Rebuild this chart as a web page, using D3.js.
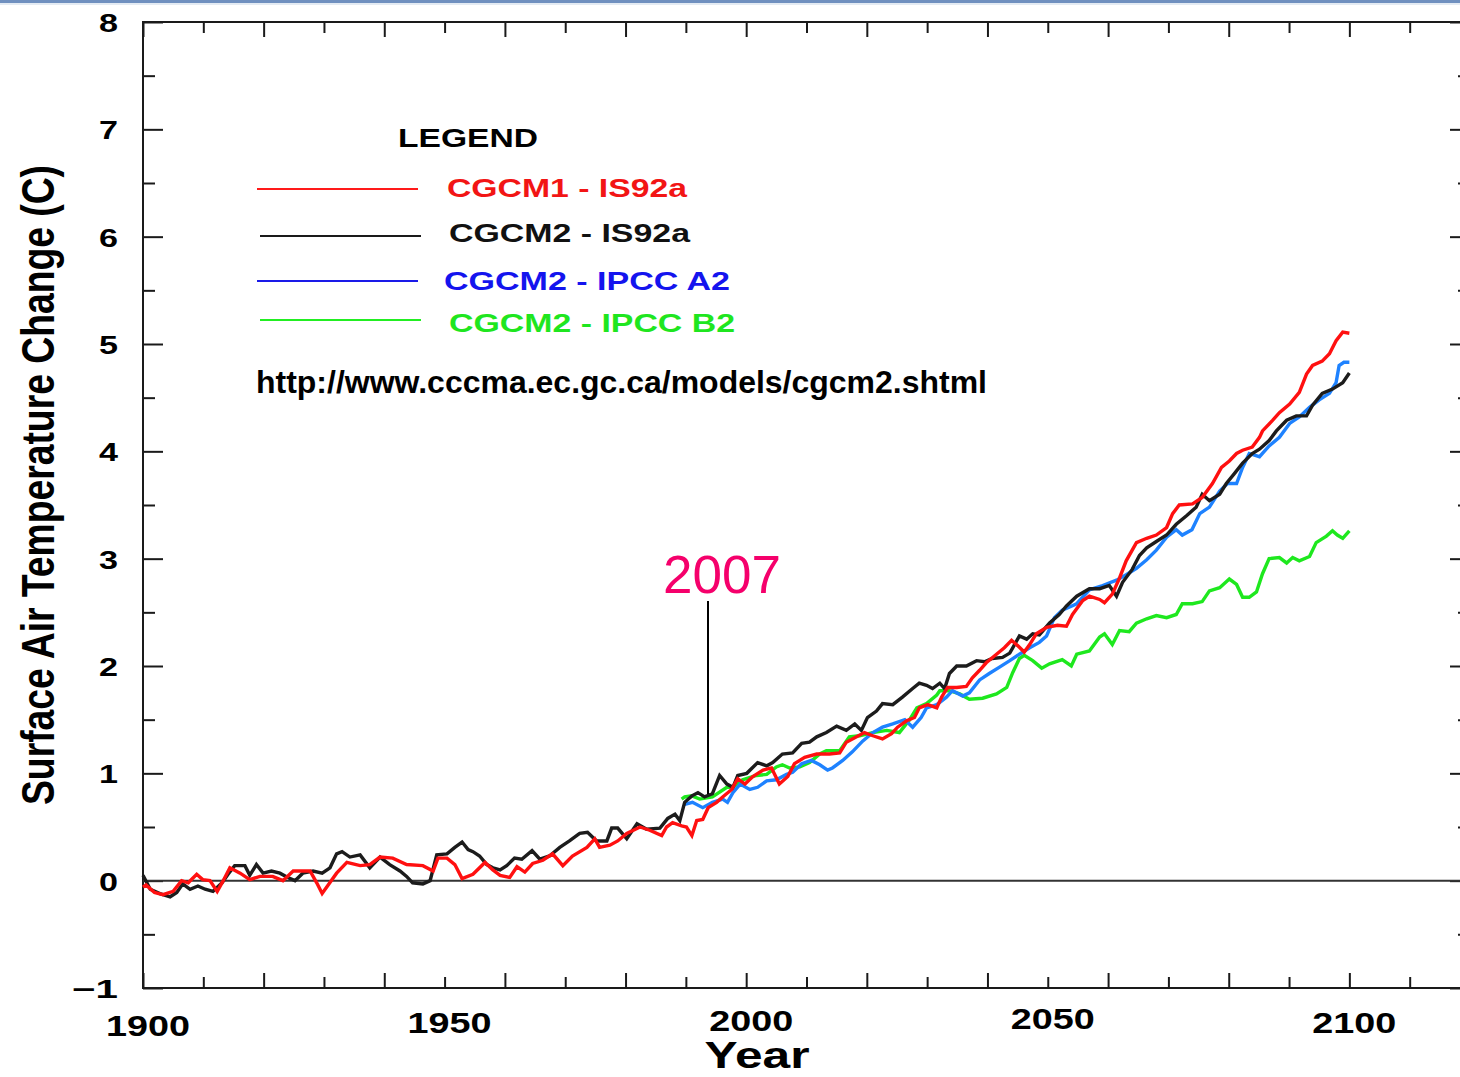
<!DOCTYPE html>
<html>
<head>
<meta charset="utf-8">
<script src="https://cdn.jsdelivr.net/npm/d3@7"></script>
<style>
  html, body { margin: 0; padding: 0; background: #fff; }
  svg { display: block; }
  text { font-family: "Liberation Sans", Arial, sans-serif; }
</style>
</head>
<body>
<svg id="chart" width="1460" height="1077"></svg>
<script>
// Surface air temperature change, CGCM runs
var xLabelYears = [1900, 1950, 2000, 2050, 2100];
var yLabelValues = [-1, 0, 1, 2, 3, 4, 5, 6, 7, 8];
var legendNames = ["CGCM1 - IS92a", "CGCM2 - IS92a", "CGCM2 - IPCC A2", "CGCM2 - IPCC B2"];
var noteYear = "2007";
var sourceUrl = "http://www.cccma.ec.gc.ca/models/cgcm2.shtml";

var cgcm1Is92a = [
  [1900,-0.06],[1900.5,-0.04],[1901.9,-0.11],[1903.3,-0.13],[1905,-0.1],[1906.4,0],[1907.5,-0.02],
  [1908.9,0.06],[1909.9,0.01],[1911.1,0],[1912.3,-0.1],[1913.3,0],[1914.4,0.12],[1916.1,0.07],
  [1917.7,0.01],[1919.4,0.04],[1921.5,0.04],[1923.2,0],[1924.9,0.09],[1927.7,0.09],[1928.8,-0.02],
  [1929.7,-0.12],[1930.7,-0.04],[1932.1,0.07],[1933.8,0.17],[1936,0.14],[1937.6,0.15],[1939.3,0.22],
  [1941.4,0.21],[1943.7,0.15],[1946.4,0.14],[1948.1,0.09],[1948.9,0.21],[1950.4,0.21],[1951.7,0.15],
  [1952.9,0.02],[1954.7,0.06],[1956.7,0.17],[1958,0.1],[1959.2,0.05],[1960.8,0.03],[1962,0.13],
  [1963.3,0.08],[1964.6,0.16],[1966.3,0.19],[1967.9,0.25],[1969.6,0.14],[1971.2,0.23],[1973.6,0.31],
  [1974.9,0.39],[1975.7,0.31],[1977.4,0.33],[1978.7,0.37],[1980.2,0.44],[1982.4,0.5],[1984,0.47],
  [1986,0.42],[1986.8,0.5],[1987.8,0.54],[1989.3,0.51],[1990.1,0.5],[1991,0.42],[1991.8,0.56],
  [1992.8,0.57],[1993.7,0.68],[1995.1,0.73],[1996.1,0.78],[1997.6,0.85],[1998.6,0.95],[1999.8,0.9],
  [2001.1,0.97],[2002.8,1.03],[2004.2,1.05],[2005.5,0.9],[2006.9,0.97],[2008,1.09],[2009.7,1.15],
  [2011.7,1.18],[2013.8,1.18],[2015.5,1.19],[2016.6,1.29],[2018.3,1.34],[2019.6,1.38],[2021,1.35],
  [2022.6,1.32],[2024.1,1.37],[2025.1,1.43],[2026.6,1.49],[2027.9,1.52],[2028.7,1.61],[2030.1,1.64],
  [2031.6,1.61],[2032.4,1.71],[2033.4,1.8],[2034.9,1.8],[2036.5,1.81],[2037.5,1.89],[2038.7,1.96],
  [2039.8,2.03],[2041.5,2.11],[2042.8,2.17],[2044,2.24],[2045,2.19],[2046.1,2.13],[2047,2.2],
  [2048.1,2.3],[2049.8,2.36],[2051.6,2.38],[2053.1,2.37],[2054.1,2.48],[2055.8,2.61],[2056.9,2.65],
  [2058.6,2.62],[2059.4,2.59],[2060.7,2.67],[2061.9,2.82],[2063,2.98],[2064.7,3.15],[2066.4,3.19],
  [2068,3.22],[2069.7,3.29],[2070.7,3.42],[2071.8,3.5],[2074,3.51],[2075.6,3.57],[2077.3,3.7],
  [2078.8,3.85],[2080.1,3.91],[2081.3,3.98],[2082.3,4.01],[2083.9,4.04],[2085.1,4.13],[2085.6,4.19],
  [2087.3,4.29],[2088.4,4.36],[2090.1,4.44],[2091.7,4.55],[2092.9,4.72],[2093.9,4.8],[2095.5,4.84],
  [2096.7,4.91],[2097.8,5.03],[2098.9,5.11],[2100,5.1]
];

var cgcm2Is92a = [
  [1900,0.05],[1901.2,-0.08],[1902.8,-0.12],[1904.5,-0.15],[1905.6,-0.11],[1906.6,-0.03],[1907.8,-0.08],
  [1909.1,-0.05],[1910.3,-0.08],[1911.6,-0.1],[1913.1,-0.02],[1914.1,0.06],[1915.2,0.14],[1916.9,0.14],
  [1917.7,0.05],[1918.8,0.15],[1919.9,0.07],[1921.3,0.09],[1922.7,0.07],[1924,0.03],[1925.2,0],
  [1926.5,0.07],[1928.2,0.09],[1929.7,0.07],[1931,0.12],[1932.1,0.25],[1933,0.27],[1934.3,0.22],
  [1936,0.24],[1937.6,0.12],[1939.3,0.22],[1940.9,0.15],[1942.6,0.09],[1943.7,0.04],[1944.7,-0.02],
  [1946.4,-0.03],[1947.6,0],[1948.7,0.24],[1950.4,0.25],[1951.7,0.31],[1952.9,0.36],[1953.9,0.29],
  [1954.7,0.27],[1955.8,0.23],[1957,0.15],[1958,0.12],[1959.2,0.1],[1960.3,0.14],[1961.6,0.21],
  [1962.8,0.2],[1964.5,0.28],[1965.8,0.2],[1967.4,0.23],[1969.1,0.31],[1970.7,0.37],[1972.4,0.44],
  [1973.7,0.45],[1975.2,0.37],[1976.9,0.37],[1977.7,0.49],[1978.7,0.49],[1980.2,0.39],[1981.9,0.53],
  [1983.5,0.48],[1985.7,0.49],[1987,0.58],[1988.2,0.62],[1989,0.56],[1989.8,0.73],[1991,0.79],
  [1992,0.82],[1993.1,0.78],[1994.4,0.81],[1995.6,0.98],[1996.8,0.9],[1997.8,0.87],[1998.6,0.98],
  [2000.1,1.0],[2001.9,1.1],[2003.4,1.07],[2004.4,1.1],[2006,1.18],[2007.7,1.19],[2009.2,1.28],
  [2010.5,1.29],[2011.7,1.34],[2013.3,1.38],[2015,1.44],[2016.6,1.4],[2018,1.46],[2019.1,1.4],
  [2020.1,1.52],[2021.6,1.58],[2022.6,1.65],[2024.3,1.64],[2025.9,1.71],[2027.6,1.79],[2028.7,1.84],
  [2029.9,1.82],[2030.9,1.79],[2032.1,1.84],[2032.9,1.79],[2033.7,1.93],[2034.9,2.0],[2036.5,2.0],
  [2038.2,2.05],[2039.5,2.04],[2040.8,2.07],[2042.5,2.08],[2043.7,2.12],[2045.3,2.28],[2046.5,2.25],
  [2047.5,2.3],[2048.6,2.29],[2050.3,2.4],[2051.9,2.48],[2053.1,2.56],[2054.8,2.65],[2056.9,2.72],
  [2058.6,2.72],[2060.2,2.75],[2061.4,2.65],[2062.4,2.78],[2064,2.9],[2065.2,3.03],[2066.4,3.1],
  [2068,3.16],[2069.7,3.22],[2071.3,3.32],[2073,3.4],[2074.6,3.48],[2075.6,3.6],[2076.8,3.54],
  [2078.5,3.6],[2079.6,3.7],[2080.9,3.79],[2082.3,3.89],[2083.9,3.98],[2085.1,4.02],[2086.7,4.1],
  [2087.9,4.19],[2089.6,4.29],[2091.2,4.33],[2092.9,4.33],[2093.9,4.43],[2095.5,4.54],[2097.2,4.58],
  [2098.9,4.64],[2100,4.73]
];

var cgcm2A2 = [
  [1989.8,0.71],[1991.1,0.73],[1992.8,0.68],[1994.4,0.73],[1996.1,0.76],[1996.9,0.73],[1997.8,0.82],
  [1999,0.9],[2000.6,0.85],[2001.9,0.87],[2003.4,0.93],[2005,0.94],[2006.7,0.99],[2007.7,1.01],
  [2009.2,1.09],[2010.8,1.12],[2012.2,1.08],[2013.5,1.03],[2014.3,1.05],[2016,1.12],[2017.6,1.2],
  [2019.3,1.3],[2021,1.38],[2022.6,1.43],[2024.3,1.46],[2026.3,1.5],[2027.6,1.43],[2029,1.52],
  [2029.9,1.61],[2031.6,1.64],[2033.2,1.71],[2034.2,1.77],[2035.9,1.72],[2037,1.75],[2038.7,1.87],
  [2040.3,1.93],[2042,1.99],[2043.7,2.05],[2045.3,2.11],[2047,2.17],[2048.6,2.22],[2049.8,2.28],
  [2051.1,2.45],[2052.4,2.52],[2054.8,2.58],[2056.9,2.71],[2059.1,2.75],[2061.4,2.8],[2063,2.85],
  [2064.7,2.91],[2066.4,2.99],[2068,3.08],[2069.7,3.2],[2071.3,3.27],[2072.3,3.22],[2073.9,3.27],
  [2075.2,3.42],[2076.8,3.48],[2078.5,3.63],[2079.8,3.7],[2081.3,3.7],[2082.3,3.85],[2083.4,3.98],
  [2085.1,3.95],[2086.7,4.05],[2088.4,4.13],[2090.1,4.26],[2091.7,4.32],[2093.4,4.41],[2095,4.48],
  [2096.7,4.54],[2097.8,4.64],[2098.3,4.8],[2099.1,4.83],[2100,4.83]
];

var cgcm2B2 = [
  [1989.3,0.76],[1989.8,0.78],[1991,0.79],[1992.3,0.76],[1994.4,0.78],[1996.8,0.87],[1997.8,0.87],
  [1999.4,0.94],[2001.7,0.98],[2003.4,0.99],[2005,1.06],[2006,1.08],[2007.2,1.05],[2008.9,1.06],
  [2010.5,1.1],[2012.2,1.18],[2013.3,1.21],[2015.5,1.21],[2017.1,1.34],[2018.8,1.35],[2021,1.38],
  [2023.3,1.4],[2025.4,1.38],[2027.1,1.5],[2028.3,1.61],[2029.9,1.65],[2031.6,1.73],[2032.1,1.77],
  [2033.7,1.77],[2035.4,1.74],[2037,1.69],[2039.2,1.7],[2041.5,1.74],[2043.2,1.8],[2044.2,1.94],
  [2045.3,2.07],[2046.1,2.1],[2047.5,2.05],[2049,1.98],[2050.3,2.02],[2052.4,2.06],[2053.9,2.0],
  [2054.8,2.11],[2056.9,2.14],[2058.6,2.27],[2059.4,2.3],[2060.7,2.2],[2061.9,2.33],[2063.5,2.32],
  [2064.7,2.4],[2066.4,2.44],[2068,2.47],[2069.7,2.45],[2071.3,2.48],[2072.3,2.58],[2074,2.58],
  [2075.6,2.6],[2076.8,2.7],[2078.5,2.73],[2080.1,2.81],[2081.3,2.76],[2082.3,2.64],[2083.4,2.64],
  [2084.6,2.69],[2085.6,2.86],[2086.7,3.0],[2088.4,3.01],[2089.6,2.96],[2090.6,3.01],[2091.7,2.98],
  [2093.4,3.02],[2094.5,3.15],[2096.2,3.21],[2097.2,3.26],[2098,3.22],[2098.9,3.19],[2100,3.26]
];

// plot frame (right edge runs off the page, like the slide)
var frame = {left: 143, right: 1470, top: 22, bottom: 988};

var svg = d3.select("#chart");

var x = d3.scaleLinear().domain([1900, 2120]).range([frame.left, frame.right]);
var y = d3.scaleLinear().domain([-1, 8]).range([frame.bottom, frame.top]);

// slide border at the very top
svg.append("rect").attr("x", 0).attr("y", 0).attr("width", 1460).attr("height", 3).attr("fill", "#7090bf");
svg.append("rect").attr("x", 0).attr("y", 3).attr("width", 1460).attr("height", 2).attr("fill", "#e4ebf3");

//Draw the tick marks with d3 axes, the domain lines come from the frame below
function ticks(axis, transform) {
  var g = svg.append("g").attr("transform", transform).call(axis);
  g.select(".domain").remove();
  g.selectAll(".tick line").attr("stroke", "#1a1a1a").attr("stroke-width", 2);
  g.selectAll(".tick text").remove();
  return g;
}
var majorYears = d3.range(1900, 2121, 20),
    minorYears = d3.range(1910, 2121, 20),
    majorVals = d3.range(-1, 8.01, 1),
    minorVals = d3.range(-0.5, 8, 1);

ticks(d3.axisBottom(x).tickValues(majorYears).tickSize(-15), "translate(0," + frame.bottom + ")");
ticks(d3.axisBottom(x).tickValues(minorYears).tickSize(-11), "translate(0," + frame.bottom + ")");
ticks(d3.axisTop(x).tickValues(majorYears).tickSize(-15), "translate(0," + frame.top + ")");
ticks(d3.axisTop(x).tickValues(minorYears).tickSize(-11), "translate(0," + frame.top + ")");
ticks(d3.axisLeft(y).tickValues(majorVals).tickSize(-20), "translate(" + frame.left + ",0)");
ticks(d3.axisLeft(y).tickValues(minorVals).tickSize(-12), "translate(" + frame.left + ",0)");
ticks(d3.axisRight(y).tickValues(majorVals).tickSize(-20), "translate(" + frame.right + ",0)");
ticks(d3.axisRight(y).tickValues(minorVals).tickSize(-12), "translate(" + frame.right + ",0)");

// frame
svg.append("rect")
  .attr("x", frame.left).attr("y", frame.top)
  .attr("width", frame.right - frame.left).attr("height", frame.bottom - frame.top)
  .attr("fill", "none").attr("stroke", "#1a1a1a").attr("stroke-width", 2);

// zero line
svg.append("line")
  .attr("x1", frame.left).attr("x2", frame.right)
  .attr("y1", y(0)).attr("y2", y(0))
  .attr("stroke", "#333").attr("stroke-width", 2);

// y tick labels
svg.append("g").selectAll("text")
  .data(yLabelValues)
  .enter().append("text")
  .attr("x", 118)
  .attr("y", function(d){ return y(d) + 10; })
  .attr("text-anchor", "end")
  .attr("font-size", 25)
  .attr("font-weight", "bold")
  .attr("textLength", function(d){ return d < 0 ? 46 : 19; })
  .attr("lengthAdjust", "spacingAndGlyphs")
  .text(function(d){ return d < 0 ? "\u2212" + Math.abs(d) : d; });

// x tick labels, the original ones wobble a little up and down
var xLabelDy = [13, 10, 8, 6, 10];
svg.append("g").selectAll("text")
  .data(xLabelYears)
  .enter().append("text")
  .attr("x", function(d){ return x(d) + 5; })
  .attr("y", function(d, i){ return frame.bottom + 35 + xLabelDy[i]; })
  .attr("text-anchor", "middle")
  .attr("font-size", 29)
  .attr("font-weight", "bold")
  .attr("textLength", 84)
  .attr("lengthAdjust", "spacingAndGlyphs")
  .text(function(d){ return d; });

// axis titles
svg.append("text")
  .attr("x", 757).attr("y", 1068)
  .attr("text-anchor", "middle")
  .attr("font-size", 37).attr("font-weight", "bold")
  .attr("textLength", 105).attr("lengthAdjust", "spacingAndGlyphs")
  .text("Year");

svg.append("text")
  .attr("transform", "translate(54,485) rotate(-90)")
  .attr("text-anchor", "middle")
  .attr("font-size", 46).attr("font-weight", "bold")
  .attr("textLength", 640).attr("lengthAdjust", "spacingAndGlyphs")
  .text("Surface Air Temperature Change (C)");

// series, drawn bottom to top
var series = [
  {data: cgcm2B2, color: "#1ee81e"},
  {data: cgcm2A2, color: "#1e82ff"},
  {data: cgcm2Is92a, color: "#1c1c1c"},
  {data: cgcm1Is92a, color: "#ff1010"}
];

var line = d3.line()
  .x(function(d){ return x(d[0]); })
  .y(function(d){ return y(d[1]); });

svg.append("g").selectAll("path")
  .data(series)
  .enter().append("path")
  .attr("d", function(d){ return line(d.data); })
  .attr("fill", "none")
  .attr("stroke", function(d){ return d.color; })
  .attr("stroke-width", 3.4)
  .attr("stroke-linejoin", "miter");

// legend
svg.append("text")
  .attr("x", 398).attr("y", 147)
  .attr("font-size", 26).attr("font-weight", "bold")
  .attr("textLength", 140).attr("lengthAdjust", "spacingAndGlyphs")
  .text("LEGEND");

var legendItems = [
  {line: [257, 418, 189], text: [447, 197, 240], color: "#ff1a1a", textColor: "#f21515"},
  {line: [260, 421, 236], text: [449, 242, 241], color: "#1a1a1a", textColor: "#111"},
  {line: [257, 418, 281], text: [444, 290, 286], color: "#1a1ae8", textColor: "#1414ee"},
  {line: [260, 421, 320], text: [449, 332, 286], color: "#22ee22", textColor: "#1fe61f"}
];

var legend = svg.append("g");
legend.selectAll("line")
  .data(legendItems)
  .enter().append("line")
  .attr("x1", function(d){ return d.line[0]; })
  .attr("x2", function(d){ return d.line[1]; })
  .attr("y1", function(d){ return d.line[2]; })
  .attr("y2", function(d){ return d.line[2]; })
  .attr("stroke", function(d){ return d.color; })
  .attr("stroke-width", 2);

legend.selectAll("text")
  .data(legendItems)
  .enter().append("text")
  .attr("x", function(d){ return d.text[0]; })
  .attr("y", function(d){ return d.text[1]; })
  .attr("font-size", 26).attr("font-weight", "bold")
  .attr("textLength", function(d){ return d.text[2]; })
  .attr("lengthAdjust", "spacingAndGlyphs")
  .attr("fill", function(d){ return d.textColor; })
  .text(function(d, i){ return legendNames[i]; });

svg.append("text")
  .attr("x", 256).attr("y", 393)
  .attr("font-size", 32).attr("font-weight", "bold")
  .attr("textLength", 731).attr("lengthAdjust", "spacingAndGlyphs")
  .text(sourceUrl);

// 2007 marker
svg.append("text")
  .attr("x", 663).attr("y", 593)
  .attr("font-size", 53)
  .attr("fill", "#f5006b")
  .text(noteYear);

svg.append("line")
  .attr("x1", 708).attr("x2", 708)
  .attr("y1", 601).attr("y2", 794)
  .attr("stroke", "#000").attr("stroke-width", 2);
</script>
</body>
</html>
